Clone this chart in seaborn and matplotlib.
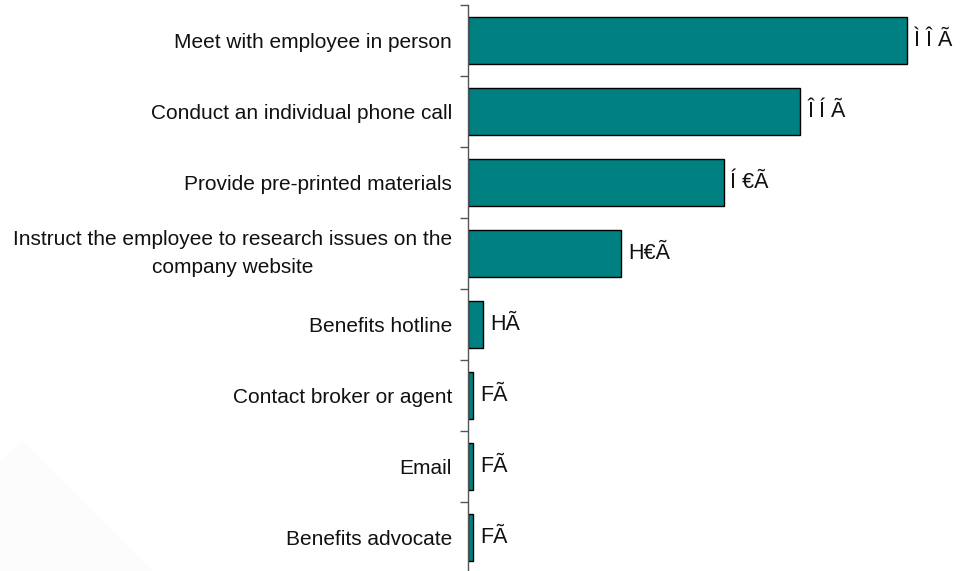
import matplotlib
matplotlib.use("Agg")
import matplotlib.pyplot as plt
from matplotlib.patches import Polygon
from matplotlib.ticker import FixedLocator
import seaborn as sns
import pandas as pd

categories = [
    "Meet with employee in person",
    "Conduct an individual phone call",
    "Provide pre-printed materials",
    "Instruct the employee to research issues on the\ncompany website",
    "Benefits hotline",
    "Contact broker or agent",
    "Email",
    "Benefits advocate",
]
values = [86, 65, 50, 30, 3, 1, 1, 1]
value_labels = ["Ì Î Ã", "Î Í Ã", "Í €Ã", "H€Ã", "HÃ", "FÃ", "FÃ", "FÃ"]

sns.set_theme(style="white")
plt.rcParams["font.family"] = ["Liberation Sans", "DejaVu Sans"]

W, H = 960, 571
fig = plt.figure(figsize=(W / 100, H / 100), dpi=100)
fig.patch.set_facecolor("white")

# faint backdrop shape in the lower-left corner
fig.patches.append(Polygon(
    [(0, 109 / H), (22 / W, 131 / H), (153 / W, 0), (0, 0)],
    closed=True, transform=fig.transFigure, facecolor="#fcfcfc",
    edgecolor="none", zorder=0))

left, right, top, bottom = 468, 960, 5, 573
ax = fig.add_axes([left / W, (H - bottom) / H, (right - left) / W, (bottom - top) / H])
ax.set_facecolor("none")

df = pd.DataFrame({"category": categories, "value": values})
sns.barplot(data=df, x="value", y="category", orient="h", color="#008080",
            saturation=1, width=0.65, edgecolor="black", linewidth=1.0, ax=ax)

scale = 5.11  # pixels per unit
ax.set_xlim(0, (right - left) / scale)
ax.set_ylim(len(categories) - 0.5, -0.5)

for c in ax.containers:
    ax.bar_label(c, labels=value_labels, padding=5, fontsize=15.5, color="#111111")

ax.set_xlabel("")
ax.set_ylabel("")
ax.set_xticks([])
for s in ["top", "right", "bottom"]:
    ax.spines[s].set_visible(False)
ax.spines["left"].set_color("#555555")
ax.spines["left"].set_linewidth(1.0)

ax.set_yticks(range(len(categories)))
ax.set_yticklabels(categories, fontsize=15, color="#111111", ha="right",
                   multialignment="center", linespacing=1.6)
for lbl in ax.get_yticklabels():
    if "\n" in lbl.get_text():
        lbl.set_verticalalignment("center")
ax.yaxis.set_minor_locator(FixedLocator([i - 0.5 for i in range(len(categories) + 1)]))
ax.tick_params(axis="y", which="major", length=0, pad=11.5)
ax.tick_params(axis="y", which="minor", length=5.8, width=1.0, color="#555555",
               direction="out", left=True)

fig.savefig("out.png", dpi=100, facecolor="white")
